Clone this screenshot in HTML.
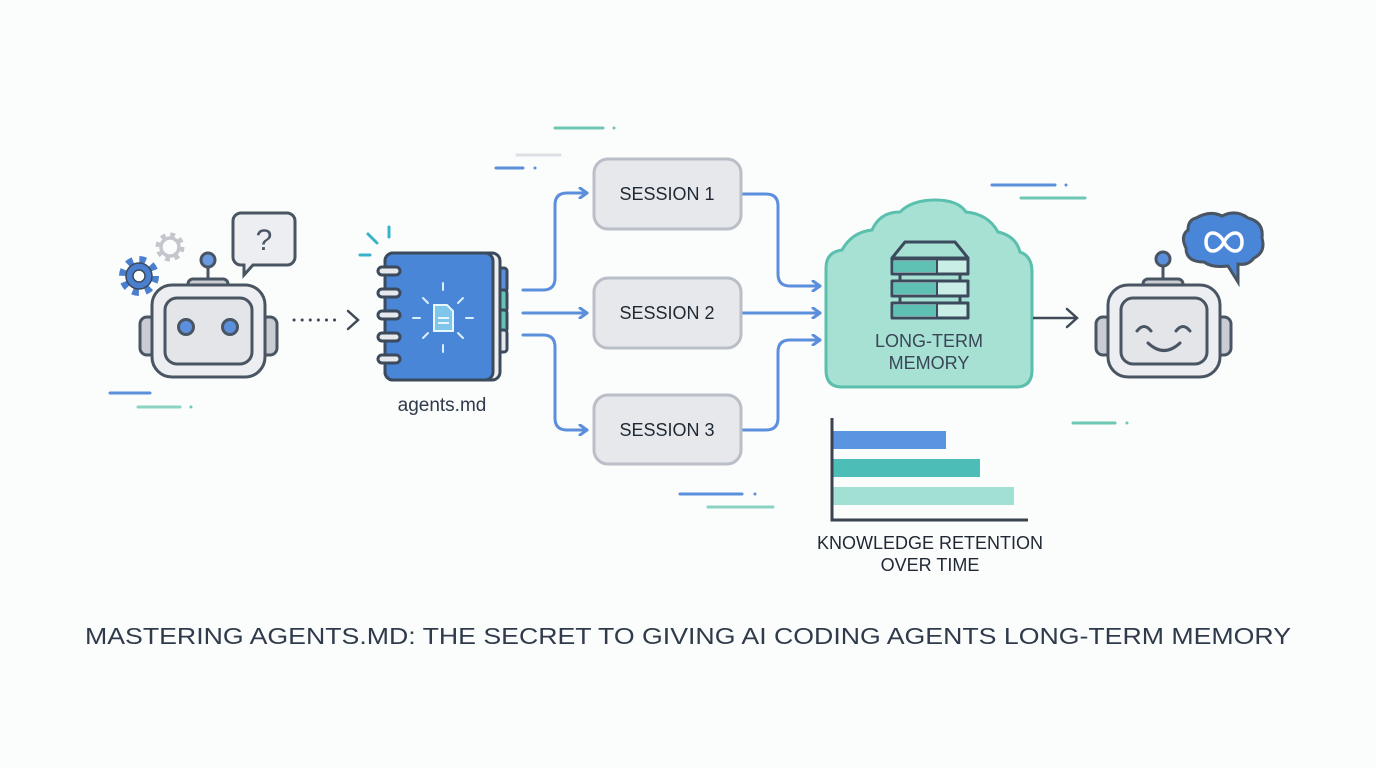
<!DOCTYPE html>
<html><head><meta charset="utf-8"><style>
html,body{margin:0;padding:0;background:#fbfcfc;}
svg{display:block;}
text{font-family:"Liberation Sans",sans-serif;}
</style></head><body>
<svg width="1376" height="768" viewBox="0 0 1376 768" xmlns="http://www.w3.org/2000/svg">
<rect width="1376" height="768" fill="#fbfcfc"/>
<defs>
<marker id="ab" markerWidth="12" markerHeight="12" refX="9" refY="6" orient="auto" markerUnits="userSpaceOnUse">
<path d="M2,1 L9,6 L2,11" fill="none" stroke="#5b8fdc" stroke-width="3" stroke-linecap="round" stroke-linejoin="round"/></marker>
</defs>
<g stroke-linecap="round" stroke-width="3" fill="none">
<line x1="555" y1="128" x2="603" y2="128" stroke="#6cc7b3"/><circle cx="614" cy="128" r="1.5" fill="#6cc7b3" stroke="none"/>
<line x1="517" y1="155" x2="560" y2="155" stroke="#dcdfe4"/>
<line x1="496" y1="168" x2="523" y2="168" stroke="#5b8fdc"/><circle cx="535" cy="168" r="1.5" fill="#5b8fdc" stroke="none"/>
<line x1="992" y1="185" x2="1055" y2="185" stroke="#5b8fdc"/><circle cx="1066" cy="185" r="1.5" fill="#5b8fdc" stroke="none"/>
<line x1="1021" y1="198" x2="1085" y2="198" stroke="#6cc7b3"/>
<line x1="110" y1="393" x2="150" y2="393" stroke="#5b8fdc"/>
<line x1="138" y1="407" x2="180" y2="407" stroke="#8ad3c3"/><circle cx="191" cy="407" r="1.5" fill="#6cc7b3" stroke="none"/>
<line x1="680" y1="494" x2="742" y2="494" stroke="#5b8fdc"/><circle cx="755" cy="494" r="1.5" fill="#5b8fdc" stroke="none"/>
<line x1="708" y1="507" x2="773" y2="507" stroke="#8ad3c3"/>
<line x1="1073" y1="423" x2="1115" y2="423" stroke="#6cc7b3"/><circle cx="1127" cy="423" r="1.5" fill="#6cc7b3" stroke="none"/>
<line x1="368" y1="234" x2="377" y2="243" stroke="#38b3c9"/>
<line x1="389" y1="227" x2="389" y2="237" stroke="#38b3c9"/>
<line x1="360" y1="255" x2="370" y2="255" stroke="#38b3c9"/>
</g>

<!-- robot 1 -->
<g stroke="#4a5563" stroke-width="3">
<circle cx="208" cy="260" r="7" fill="#6a9ae0"/>
<line x1="208" y1="267" x2="208" y2="282"/>
<rect x="188" y="279" width="40" height="10" rx="5" fill="#c9ccd2"/>
<rect x="140" y="317" width="16" height="38" rx="7" fill="#c9ccd2"/>
<rect x="261" y="317" width="16" height="38" rx="7" fill="#c9ccd2"/>
<rect x="152" y="285" width="113" height="92" rx="20" fill="#eceef1"/>
<rect x="165" y="298" width="87" height="66" rx="12" fill="#e3e5e9"/>
<circle cx="186" cy="327" r="7.5" fill="#5b8fdc"/>
<circle cx="230" cy="327" r="7.5" fill="#5b8fdc"/>
<path d="M241,213 h46 a8,8 0 0 1 8,8 v36 a8,8 0 0 1 -8,8 h-34 l-9,10 v-10 h-3 a8,8 0 0 1 -8,-8 v-36 a8,8 0 0 1 8,-8z" fill="#eceef1"/>
</g>
<text x="264" y="250" font-size="30" text-anchor="middle" fill="#4a5563">?</text>
<g transform="translate(139,276)">
<circle r="16" fill="none" stroke="#4a7fd0" stroke-width="8" stroke-dasharray="6.3 6.3"/>
<circle r="13" fill="#4a7fd0" stroke="#3b4a5c" stroke-width="1.5"/>
<circle r="6" fill="#fbfcfc" stroke="#3b4a5c" stroke-width="1.5"/>
</g>
<g transform="translate(170,247)">
<circle r="12" fill="none" stroke="#c3c6cc" stroke-width="5" stroke-dasharray="4.7 4.7"/>
<circle r="9" fill="none" stroke="#c3c6cc" stroke-width="3.5"/>
</g>

<line x1="294" y1="320" x2="342" y2="320" stroke="#3f4a58" stroke-width="3" stroke-dasharray="0.1 8" stroke-linecap="round"/>
<path d="M348,311 L358,320 L348,329" fill="none" stroke="#3f4a58" stroke-width="2.5" stroke-linecap="round"/>

<!-- notebook -->
<g stroke="#3b4a5c" stroke-width="3">
<rect x="494" y="268" width="13" height="24" rx="3" fill="#5b8fdc"/>
<rect x="494" y="290" width="13" height="22" rx="3" fill="#66c4b1"/>
<rect x="494" y="310" width="13" height="22" rx="3" fill="#66c4b1"/>
<rect x="494" y="330" width="13" height="22" rx="3" fill="#e6e8eb"/>
<rect x="385" y="253" width="115" height="127" rx="8" fill="#eceef1"/>
<rect x="385" y="253" width="108" height="127" rx="8" fill="#4a86d8"/>
<g fill="#e6e8eb">
<rect x="378" y="267" width="22" height="8" rx="4"/>
<rect x="378" y="289" width="22" height="8" rx="4"/>
<rect x="378" y="311" width="22" height="8" rx="4"/>
<rect x="378" y="333" width="22" height="8" rx="4"/>
<rect x="378" y="355" width="22" height="8" rx="4"/>
</g>
</g>
<g stroke="#d9eefb" stroke-width="2" stroke-linecap="round">
<line x1="443" y1="283" x2="443" y2="290"/><line x1="443" y1="345" x2="443" y2="352"/>
<line x1="413" y1="318" x2="420" y2="318"/><line x1="466" y1="318" x2="473" y2="318"/>
<line x1="423" y1="298" x2="428" y2="303"/><line x1="458" y1="333" x2="463" y2="338"/>
<line x1="463" y1="298" x2="458" y2="303"/><line x1="428" y1="333" x2="423" y2="338"/>
</g>
<path d="M434,305 h13 l6,6 v20 h-19z" fill="#7ec6ea" stroke="#e8f6fc" stroke-width="2"/>
<line x1="438" y1="318" x2="449" y2="318" stroke="#e8f6fc" stroke-width="2"/>
<line x1="438" y1="323" x2="449" y2="323" stroke="#e8f6fc" stroke-width="2"/>
<text x="442" y="411" font-size="19" text-anchor="middle" fill="#2f3a4a">agents.md</text>

<g fill="none" stroke="#5b8fdc" stroke-width="3" stroke-linecap="round" stroke-linejoin="round" marker-end="url(#ab)">
<path d="M523,290 H543 Q555,290 555,278 V205 Q555,193 567,193 H587"/>
<path d="M523,313 H587"/>
<path d="M523,335 H543 Q555,335 555,347 V418 Q555,430 567,430 H587"/>
<path d="M743,194 H766 Q778,194 778,206 V274 Q778,286 790,286 H820"/>
<path d="M743,313 H820"/>
<path d="M743,430 H766 Q778,430 778,418 V352 Q778,340 790,340 H820"/>
</g>

<g fill="#e6e8ec" stroke="#b9bec7" stroke-width="3">
<rect x="594" y="159" width="147" height="70" rx="14"/>
<rect x="594" y="278" width="147" height="70" rx="14"/>
<rect x="594" y="395" width="147" height="69" rx="14"/>
</g>
<g font-size="18" text-anchor="middle" fill="#1f2833">
<text x="667" y="200">SESSION 1</text>
<text x="667" y="319">SESSION 2</text>
<text x="667" y="436">SESSION 3</text>
</g>

<path d="M842,387 Q826,387 826,370 V268 Q826,252 842,250 Q852,232 872,230 Q880,212 900,212 Q912,200 935,200 Q958,200 966,212 Q988,214 998,232 Q1016,236 1020,252 Q1032,256 1032,272 V370 Q1032,387 1016,387 Z" fill="#a6e1d4" stroke="#5bbfae" stroke-width="3"/>
<g stroke="#3b4a5c" stroke-width="3" stroke-linejoin="round">
<path d="M905,242 H955 L968,258 H892 Z" fill="#a6e1d4"/>
<line x1="900" y1="274" x2="900" y2="281"/><line x1="960" y1="274" x2="960" y2="281"/>
<line x1="900" y1="296" x2="900" y2="303"/><line x1="960" y1="296" x2="960" y2="303"/>
<rect x="892" y="259" width="76" height="15" fill="#c8eee6"/>
<rect x="892" y="281" width="76" height="15" fill="#c8eee6"/>
<rect x="892" y="303" width="76" height="15" fill="#c8eee6"/>
</g>
<g fill="#5fc0b4"><rect x="894" y="261" width="42" height="11"/><rect x="894" y="283" width="42" height="11"/><rect x="894" y="305" width="42" height="11"/></g>
<g stroke="#3b4a5c" stroke-width="2"><line x1="937" y1="259" x2="937" y2="274"/><line x1="937" y1="281" x2="937" y2="296"/><line x1="937" y1="303" x2="937" y2="318"/></g>
<g font-size="18" text-anchor="middle" fill="#3a4656">
<text x="929" y="347">LONG-TERM</text>
<text x="929" y="369">MEMORY</text>
</g>

<line x1="1033" y1="318" x2="1076" y2="318" stroke="#3f4a58" stroke-width="2.5"/>
<path d="M1067,309 L1077,318 L1067,327" fill="none" stroke="#3f4a58" stroke-width="2.5" stroke-linecap="round"/>

<g stroke="#4a5563" stroke-width="3">
<circle cx="1163" cy="259" r="7" fill="#5b8fdc"/>
<line x1="1163" y1="266" x2="1163" y2="282"/>
<rect x="1143" y="279" width="40" height="10" rx="5" fill="#c9ccd2"/>
<rect x="1096" y="317" width="16" height="38" rx="7" fill="#c9ccd2"/>
<rect x="1215" y="317" width="16" height="38" rx="7" fill="#c9ccd2"/>
<rect x="1108" y="285" width="112" height="92" rx="20" fill="#eceef1"/>
<rect x="1121" y="298" width="86" height="66" rx="12" fill="#e3e5e9"/>
<g fill="none" stroke-linecap="round">
<path d="M1137,331 Q1144,322 1151,331"/>
<path d="M1176,331 Q1183,322 1190,331"/>
<path d="M1148,343 Q1164,358 1180,343"/>
</g>
<path d="M1196,218 Q1210,210 1222,216 Q1236,209 1248,218 Q1264,222 1262,238 Q1266,252 1254,258 Q1248,266 1238,264 L1238,282 L1228,266 Q1212,268 1204,262 Q1186,262 1186,248 Q1180,236 1188,230 Q1188,220 1196,218 Z" fill="#4a86d8"/>
</g>
<path d="M1210,242 c0,-12 12,-12 18,0 c6,12 18,12 18,0 c0,-12 -12,-12 -18,0 c-6,12 -18,12 -18,0z" fill="none" stroke="#ffffff" stroke-width="3.5" transform="translate(-4,0)"/>

<rect x="833" y="431" width="113" height="18" fill="#5b94e0"/>
<rect x="833" y="459" width="147" height="18" fill="#4dbdb7"/>
<rect x="833" y="487" width="181" height="18" fill="#a2e0d3"/>
<path d="M832,418 V520 H1028" fill="none" stroke="#3b4350" stroke-width="3"/>
<g font-size="18" text-anchor="middle" fill="#1f2833">
<text x="930" y="549">KNOWLEDGE RETENTION</text>
<text x="930" y="571">OVER TIME</text>
</g>

<text x="688" y="644" font-size="23" text-anchor="middle" fill="#2f3a4a" textLength="1206" lengthAdjust="spacingAndGlyphs">MASTERING AGENTS.MD: THE SECRET TO GIVING AI CODING AGENTS LONG-TERM MEMORY</text>
</svg>
</body></html>
